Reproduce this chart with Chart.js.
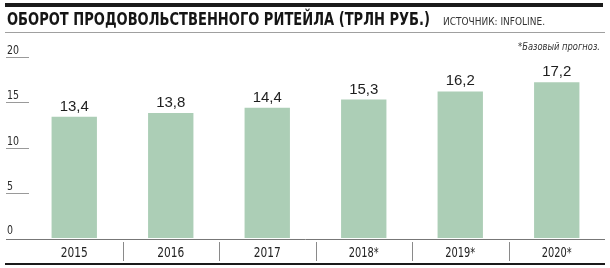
<!DOCTYPE html>
<html>
<head>
<meta charset="utf-8">
<script src="https://cdn.jsdelivr.net/npm/chart.js@4.4.1/dist/chart.umd.min.js"></script>
<style>
  html, body { margin: 0; padding: 0; background: #fff; }
  #wrap { width: 610px; height: 268px; }
</style>
</head>
<body>
<div id="wrap"><canvas id="retail" width="610" height="268"></canvas></div>
<script>
// Chart data
const years = ['2015', '2016', '2017', '2018*', '2019*', '2020*'];
const turnover = [13.4, 13.8, 14.4, 15.3, 16.2, 17.2];
const yTicks = [0, 5, 10, 15, 20];

const titleText = 'ОБОРОТ ПРОДОВОЛЬСТВЕННОГО РИТЕЙЛА (ТРЛН РУБ.)';
const sourceText = 'ИСТОЧНИК: INFOLINE.';
const noteText = '*Базовый прогноз.';

const NARROW = "'Liberation Sans Narrow', 'DejaVu Sans Condensed', 'Liberation Sans', sans-serif";
const BAR_COLOR = 'rgb(172, 206, 182)';

// draw text squeezed to a target width (condensed newspaper type)
function fitText(ctx, text, x, y, width) {
    const w = ctx.measureText(text).width;
    ctx.save();
    ctx.translate(x, y);
    ctx.scale(width / w, 1);
    ctx.fillText(text, 0, 0);
    ctx.restore();
}

function hline(ctx, x1, x2, y, width, color) {
    ctx.beginPath();
    ctx.lineWidth = width;
    ctx.strokeStyle = color;
    ctx.moveTo(x1, y);
    ctx.lineTo(x2, y);
    ctx.stroke();
}

const decorPlugin = {
    id: 'decor',
    beforeDatasetsDraw(chart) {
        const ctx = chart.ctx;
        const yScale = chart.scales.y;
        ctx.save();
        // short rules under the y tick labels
        yTicks.forEach(v => {
            if (v === 0) return;
            const y = Math.round(yScale.getPixelForValue(v)) + 0.5;
            hline(ctx, 6, 29, y, 1, '#9a9a9a');
        });
        ctx.restore();
    },
    afterDraw(chart) {
        const ctx = chart.ctx;
        const xScale = chart.scales.x;
        const yScale = chart.scales.y;
        ctx.save();

        // header
        ctx.fillStyle = '#1a1a1a';
        ctx.fillRect(5, 3, 598, 4);
        ctx.textBaseline = 'alphabetic';
        ctx.textAlign = 'left';
        ctx.fillStyle = '#151515';
        ctx.font = "bold 17px " + NARROW;
        fitText(ctx, titleText, 7, 25, 423);
        ctx.fillStyle = '#333';
        ctx.font = "10px " + NARROW;
        fitText(ctx, sourceText, 443, 25, 102);
        hline(ctx, 5, 605, 32.5, 1, '#a0a0a0');

        // forecast note
        ctx.fillStyle = '#333';
        ctx.font = "italic 10px " + NARROW;
        fitText(ctx, noteText, 518, 50, 82);

        // y tick labels
        ctx.fillStyle = '#2a2a2a';
        ctx.font = "12px " + NARROW;
        yTicks.forEach(v => {
            const y = yScale.getPixelForValue(v);
            const lbl = String(v);
            fitText(ctx, lbl, 7, y - (v === 0 ? 4 : 3), lbl.length * 6);
        });

        // axis line
        const zeroY = Math.round(yScale.getPixelForValue(0)) + 1.5;
        hline(ctx, 6, 605, zeroY, 1, '#777');

        // category labels and dividers
        ctx.font = "14px " + NARROW;
        ctx.fillStyle = '#222';
        const step = xScale.getPixelForValue(1) - xScale.getPixelForValue(0);
        years.forEach((yr, i) => {
            const cx = xScale.getPixelForValue(i);
            const tw = yr.length === 4 ? 27 : 30;
            fitText(ctx, yr, cx - tw / 2, 257, tw);
            if (i > 0) {
                const dx = Math.round(cx - step / 2) + 0.5;
                ctx.beginPath();
                ctx.lineWidth = 1;
                ctx.strokeStyle = '#8a8a8a';
                ctx.moveTo(dx, 242);
                ctx.lineTo(dx, 261);
                ctx.stroke();
            }
        });

        // bottom rule
        hline(ctx, 5, 605, 264, 2, '#1a1a1a');

        // value labels over bars
        ctx.font = "15px 'Liberation Sans', Arial, sans-serif";
        ctx.fillStyle = '#1e1e1e';
        ctx.textAlign = 'center';
        const meta = chart.getDatasetMeta(0);
        meta.data.forEach((bar, i) => {
            ctx.fillText(turnover[i].toFixed(1).replace('.', ','), bar.x, bar.y - 6);
        });

        ctx.restore();
    }
};

new Chart(document.getElementById('retail'), {
    type: 'bar',
    data: {
        labels: years,
        datasets: [{
            data: turnover,
            backgroundColor: BAR_COLOR,
            borderWidth: 0,
            categoryPercentage: 1,
            barPercentage: 0.47
        }]
    },
    options: {
        responsive: false,
        animation: false,
        events: [],
        layout: {
            padding: { left: 26, right: 5, top: 57, bottom: 30 }
        },
        plugins: {
            legend: { display: false },
            tooltip: { enabled: false }
        },
        scales: {
            x: { display: false },
            y: { display: false, min: 0, max: 20 }
        }
    },
    plugins: [decorPlugin]
});
</script>
</body>
</html>
